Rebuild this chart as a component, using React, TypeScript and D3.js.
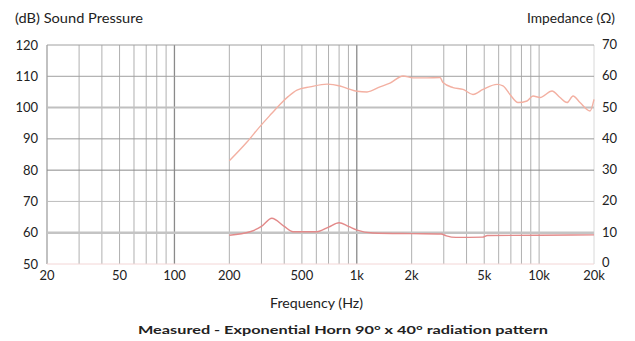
import React from "react";
import * as d3 from "d3";

const splFreq = [200, 250, 295, 340, 379, 420, 470, 554, 687, 809, 900, 1003, 1138, 1340, 1521, 1793, 2034, 2426, 2860, 2970, 3372, 3826, 4338, 4924, 5876, 6336, 6922, 7660, 8586, 9254, 10114, 11770, 13026, 14230, 15350, 16760, 19020, 20000];
const splDb = [83, 89, 94, 98, 101, 103.5, 105.6, 106.6, 107.5, 106.9, 106, 105.2, 105, 106.6, 107.8, 110.1, 109.5, 109.5, 109.6, 108, 106.4, 105.8, 104.2, 105.8, 107.4, 106.9, 104.2, 101.6, 102.1, 103.7, 103.2, 105.3, 103.2, 101.6, 103.7, 101.6, 98.9, 102.6];

const impFreq = [200, 260, 300, 342, 400, 447, 603, 700, 800, 900, 1003, 1228, 2000, 2900, 3100, 3500, 4900, 5200, 10000, 20000];
const impOhm = [9.2, 10.3, 12, 14.6, 12, 10.3, 10.3, 11.8, 13.2, 12, 10.8, 9.9, 9.7, 9.6, 9, 8.5, 8.6, 9.1, 9.2, 9.3];

const xTicks = [20, 50, 100, 200, 500, 1000, 2000, 5000, 10000, 20000];
const xTickLabels = ["20", "50", "100", "200", "500", "1k", "2k", "5k", "10k", "20k"];
const dbTicks = [50, 60, 70, 80, 90, 100, 110, 120];
const ohmTicks = [0, 10, 20, 30, 40, 50, 60, 70];

const leftTitle = "(dB) Sound Pressure";
const rightTitle = "Impedance (Ω)";
const xTitle = "Frequency (Hz)";
const chartTitle = "Measured - Exponential Horn 90° x 40° radiation pattern";

const FONT = "Lato, 'Open Sans', sans-serif";

export default function App() {
  const x = d3.scaleLog().domain([20, 20000]).range([47, 594]);
  const yDb = d3.scaleLinear().domain([50, 120]).range([264, 45]);
  const yOhm = d3.scaleLinear().domain([0, 70]).range([264, 45]);

  const minorX: number[] = [];
  for (const dec of [10, 100, 1000, 10000]) {
    for (let m = 1; m <= 9; m++) {
      const f = dec * m;
      if (f > 20 && f < 20000) minorX.push(f);
    }
  }

  const splLine = d3
    .line<number>()
    .x((_, i) => x(splFreq[i]))
    .y((d) => yDb(d))
    .curve(d3.curveMonotoneX);
  const impLine = d3
    .line<number>()
    .x((_, i) => x(impFreq[i]))
    .y((d) => yOhm(d))
    .curve(d3.curveMonotoneX);

  const hStyle = (v: number) => {
    if (v === 60) return { stroke: "#c4c4c4", w: 2.5 };
    if (v === 80) return { stroke: "#8a8a8a", w: 1 };
    if (v === 90) return { stroke: "#999", w: 1 };
    if (v === 100) return { stroke: "#c0c0c0", w: 2 };
    if (v === 70) return { stroke: "#bdbdbd", w: 1 };
    if (v === 50) return { stroke: "#f3d6d6", w: 1 };
    return { stroke: "#a0a0a0", w: 1 };
  };

  return (
    <svg width={635} height={341} style={{ position: "absolute", left: 0, top: 0, background: "#fff" }}>
      <rect x={0} y={0} width={635} height={341} fill="#fff" />
      {minorX.map((f) => {
        const dark = f === 100 || f === 1000;
        return (
          <line
            key={"v" + f}
            x1={x(f)}
            x2={x(f)}
            y1={45}
            y2={264}
            stroke={dark ? "#8a8a8a" : "#b0b0b0"}
            strokeWidth={dark ? 1.3 : 1}
          />
        );
      })}
      <line x1={x(20)} x2={x(20)} y1={45} y2={264} stroke="#a0a0a0" strokeWidth={1.3} />
      <line x1={x(20000)} x2={x(20000)} y1={45} y2={264} stroke="#d8d8d8" strokeWidth={1} />
      {dbTicks.map((v) => {
        const s = hStyle(v);
        return (
          <line key={"h" + v} x1={47} x2={594} y1={yDb(v)} y2={yDb(v)} stroke={s.stroke} strokeWidth={s.w} />
        );
      })}
      <path d={splLine(splDb) || ""} fill="none" stroke="#f3b0a2" strokeWidth={1.4} />
      <path d={impLine(impOhm) || ""} fill="none" stroke="#e38a8a" strokeWidth={1.4} />
      {dbTicks.map((v) => (
        <text key={"l" + v} x={38} y={yDb(v) + 4.5} textAnchor="end" fontFamily={FONT} fontSize={13} fill="#222">
          {v}
        </text>
      ))}
      {ohmTicks.map((v) => (
        <text key={"r" + v} x={602} y={yOhm(v) + (v === 0 ? 2.5 : 4)} textAnchor="start" fontFamily={FONT} fontSize={13} fill="#222">
          {v}
        </text>
      ))}
      {xTicks.map((f, i) => (
        <text key={"x" + f} x={x(f)} y={279.5} textAnchor="middle" fontFamily={FONT} fontSize={13} fill="#222">
          {xTickLabels[i]}
        </text>
      ))}
      <text x={15} y={23} fontFamily={FONT} fontSize={13} fill="#222" textLength={128} lengthAdjust="spacingAndGlyphs">
        {leftTitle}
      </text>
      <text x={527} y={23} fontFamily={FONT} fontSize={13} fill="#222" textLength={88} lengthAdjust="spacingAndGlyphs">
        {rightTitle}
      </text>
      <text x={270} y={308} fontFamily={FONT} fontSize={12.5} fill="#222" textLength={93} lengthAdjust="spacingAndGlyphs">
        {xTitle}
      </text>
      <text x={138} y={334} fontFamily={FONT} fontSize={12} fontWeight="bold" fill="#222" textLength={410} lengthAdjust="spacingAndGlyphs">
        {chartTitle}
      </text>
    </svg>
  );
}
